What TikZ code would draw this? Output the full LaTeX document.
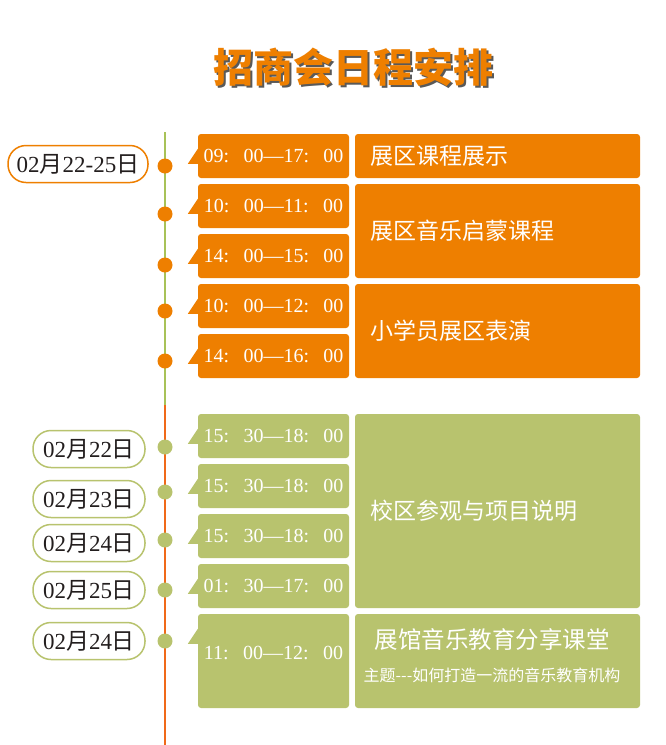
\documentclass[tikz,border=0pt]{standalone}
\usepackage{fontspec}
\setmainfont{Liberation Serif}
\newfontfamily\cjk{Noto Sans CJK SC}
\definecolor{evorange}{RGB}{238,127,0}
\definecolor{evgreen}{RGB}{184,195,110}
\definecolor{lineorange}{RGB}{240,105,25}
\definecolor{linegreen}{RGB}{168,194,88}
\definecolor{pilltext}{RGB}{35,30,30}
\newcommand\tspan[4]{#1:\hspace{.72em}#2—#3:\hspace{.72em}#4}
\newcommand\dday[2]{#1{\cjk 月}#2{\cjk 日}}
\newcommand\shadowed[1]{\makebox[0pt][l]{\hspace{2pt}\raisebox{-2pt}{\color{black!65}#1}}{\color{evorange}#1}}

\begin{document}
\begin{tikzpicture}
[x=1pt,y=-1pt,%
  every node/.style={inner sep=0pt},%
  tbox/.style={fill=#1,rounded corners=3pt,minimum width=151pt,minimum height=44pt,text=white,font=\fontsize{20}{20}\selectfont},%
  ebox/.style={fill=#1,rounded corners=3pt,minimum width=285pt,inner xsep=15pt,text width=255pt,align=left,text=white,font=\cjk\fontsize{23}{23}\selectfont},%
  dot/.style={circle,fill=#1,minimum size=15pt},%
  pill/.style={draw=#1,line width=1.5pt,fill=white,rounded corners=18pt,minimum height=37pt,text=pilltext,font=\fontsize{23}{23}\selectfont}]
\useasboundingbox (0,0) rectangle (665,745);
% title
\node[font=\cjk\bfseries\fontsize{40}{40}\selectfont] (title) at (353,68) {\shadowed{招商会日程安排}};
% timeline
\coordinate (lnTop) at (165,132);
\coordinate (lnMid) at (165,405);
\coordinate (lnEnd) at (165,745);
\draw[linegreen,line width=2pt] (lnTop) -- (lnMid);
\draw[lineorange,line width=2pt] (lnMid) -- (lnEnd);
% time boxes
\node[tbox=evorange] (t1) at (273.5,156) {\tspan{09}{00}{17}{00}};
\node[tbox=evorange] (t2) at (273.5,206) {\tspan{10}{00}{11}{00}};
\node[tbox=evorange] (t3) at (273.5,256) {\tspan{14}{00}{15}{00}};
\node[tbox=evorange] (t4) at (273.5,306) {\tspan{10}{00}{12}{00}};
\node[tbox=evorange] (t5) at (273.5,356) {\tspan{14}{00}{16}{00}};
\node[tbox=evgreen] (t6) at (273.5,436) {\tspan{15}{30}{18}{00}};
\node[tbox=evgreen] (t7) at (273.5,486) {\tspan{15}{30}{18}{00}};
\node[tbox=evgreen] (t8) at (273.5,536) {\tspan{15}{30}{18}{00}};
\node[tbox=evgreen] (t9) at (273.5,586) {\tspan{01}{30}{17}{00}};
\node[tbox=evgreen,minimum height=94pt] (t10) at (273.5,661) {};
\node[text=white,font=\fontsize{20}{20}\selectfont] (t10lbl) at ([yshift=-39pt]t10.north) {\tspan{11}{00}{12}{00}};
\foreach \b/\c in {t1/evorange,t2/evorange,t3/evorange,t4/evorange,t5/evorange,%
  t6/evgreen,t7/evgreen,t8/evgreen,t9/evgreen,t10/evgreen}
  \fill[\c] (\b.north west) ++(0,15) -- ++(-10,15) -- ++(11,0) -- ++(0,-15) -- cycle;
% dots
\node[dot=evorange] (d1) at (165,166) {};
\node[dot=evorange] (d2) at (165,214) {};
\node[dot=evorange] (d3) at (165,265) {};
\node[dot=evorange] (d4) at (165,311) {};
\node[dot=evorange] (d5) at (165,361) {};
\node[dot=evgreen] (d6) at (165,447) {};
\node[dot=evgreen] (d7) at (165,492) {};
\node[dot=evgreen] (d8) at (165,540) {};
\node[dot=evgreen] (d9) at (165,590) {};
\node[dot=evgreen] (d10) at (165,641) {};
% events
\node[ebox=evorange,minimum height=44pt] (e1) at (497.5,156) {展区课程展示};
\node[ebox=evorange,minimum height=94pt] (e2) at (497.5,231) {展区音乐启蒙课程};
\node[ebox=evorange,minimum height=94pt] (e3) at (497.5,331) {小学员展区表演};
\node[ebox=evgreen,minimum height=194pt] (e4) at (497.5,511) {校区参观与项目说明};
\node[ebox=evgreen,minimum height=94pt] (e5) at (497.5,661) {};
\node[text=white,font=\cjk\fontsize{23.5}{23.5}\selectfont] (e5title) at (492,640) {展馆音乐教育分享课堂};
\node[text=white,font=\cjk\fontsize{16}{16}\selectfont] (e5sub) at (492,675) {主题---如何打造一流的音乐教育机构};
% dates
\node[pill=evorange,minimum width=140pt] (p1) at (78,164) {\dday{02}{22-25}};
\node[pill=evgreen,minimum width=112pt] (p2) at (89,449) {\dday{02}{22}};
\node[pill=evgreen,minimum width=112pt] (p3) at (89,499) {\dday{02}{23}};
\node[pill=evgreen,minimum width=112pt] (p4) at (89,543) {\dday{02}{24}};
\node[pill=evgreen,minimum width=112pt] (p5) at (89,590) {\dday{02}{25}};
\node[pill=evgreen,minimum width=112pt] (p6) at (89,641) {\dday{02}{24}};
\end{tikzpicture}
\end{document}
